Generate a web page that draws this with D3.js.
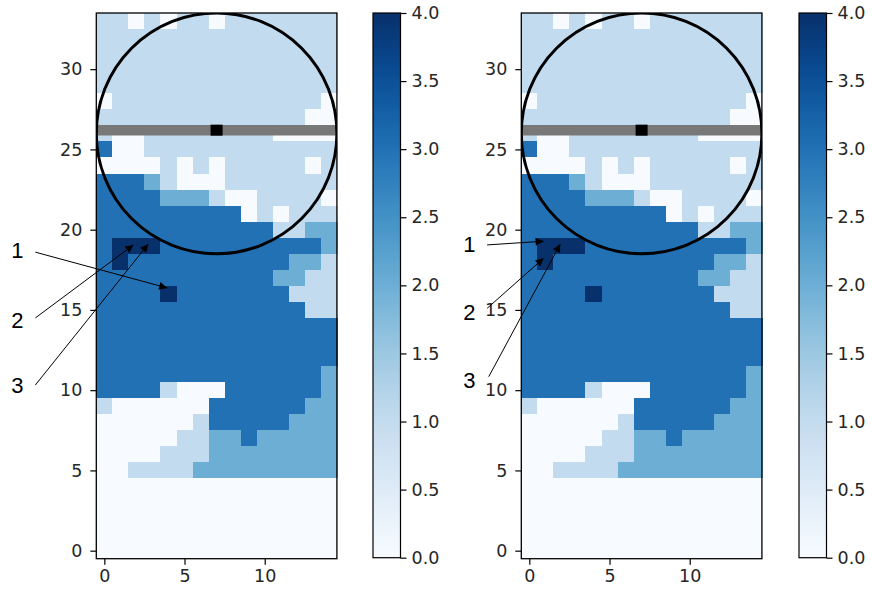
<!DOCTYPE html>
<html>
<head>
<meta charset="utf-8">
<script src="https://cdn.jsdelivr.net/npm/d3@7"></script>
<style>
  body { margin: 0; background: #fff; }
  .tick text { font-family: "DejaVu Sans", sans-serif; font-size: 17.5px; fill: #262626; }
  .note { font-family: "Liberation Sans", Arial, sans-serif; font-size: 22px; fill: #000; }
</style>
</head>
<body>
<svg id="chart" width="872" height="594"></svg>
<script>
// grid values, top row (y = 33) first, 15 columns each
const grid = [
  [1,1,0,1,0,1,1,0,1,1,1,1,1,1,1],
  [1,1,1,1,1,1,1,1,1,1,1,1,1,1,1],
  [1,1,1,1,1,1,1,1,1,1,1,1,1,1,1],
  [1,1,1,1,1,1,1,1,1,1,1,1,1,1,1],
  [1,1,1,1,1,1,1,1,1,1,1,1,1,1,1],
  [0,1,1,1,1,1,1,1,1,1,1,1,1,1,0],
  [1,1,1,1,1,1,1,1,1,1,1,1,1,0,0],
  [1,0,0,1,1,1,1,1,1,1,1,0,0,0,0],
  [3,0,0,1,1,1,1,1,1,1,1,1,1,1,1],
  [0,0,0,0,1,0,1,0,1,1,1,1,1,0,1],
  [3,3,3,2,1,0,0,0,1,1,1,1,1,1,1],
  [3,3,3,3,2,2,2,1,0,0,1,1,1,1,0],
  [3,3,3,3,3,3,3,3,3,0,1,0,1,1,1],
  [3,3,3,3,3,3,3,3,3,3,3,1,1,2,2],
  [3,4,4,4,3,3,3,3,3,3,3,3,3,3,2],
  [3,4,3,3,3,3,3,3,3,3,3,3,2,2,1],
  [3,3,3,3,3,3,3,3,3,3,3,2,2,1,1],
  [3,3,3,3,4,3,3,3,3,3,3,3,1,1,1],
  [3,3,3,3,3,3,3,3,3,3,3,3,3,1,1],
  [3,3,3,3,3,3,3,3,3,3,3,3,3,3,3],
  [3,3,3,3,3,3,3,3,3,3,3,3,3,3,3],
  [3,3,3,3,3,3,3,3,3,3,3,3,3,3,3],
  [3,3,3,3,3,3,3,3,3,3,3,3,3,3,2],
  [3,3,3,3,1,0,0,0,3,3,3,3,3,3,2],
  [1,0,0,0,0,0,0,3,3,3,3,3,3,2,2],
  [0,0,0,0,0,0,1,3,3,3,3,3,2,2,2],
  [0,0,0,0,0,1,1,2,2,3,2,2,2,2,2],
  [0,0,0,0,1,1,1,2,2,2,2,2,2,2,2],
  [0,0,1,1,1,1,2,2,2,2,2,2,2,2,2],
  [0,0,0,0,0,0,0,0,0,0,0,0,0,0,0],
  [0,0,0,0,0,0,0,0,0,0,0,0,0,0,0],
  [0,0,0,0,0,0,0,0,0,0,0,0,0,0,0],
  [0,0,0,0,0,0,0,0,0,0,0,0,0,0,0],
  [0,0,0,0,0,0,0,0,0,0,0,0,0,0,0]
];

const xTicks = [0, 5, 10];
const yTicks = [0, 5, 10, 15, 20, 25, 30];
const cbTicks = [0, 0.5, 1, 1.5, 2, 2.5, 3, 3.5, 4];

// circle centre / radius and the horizontal line with its centre marker
const circle = { cx: 7, cy: 26, r: 7.5 };
const lineY = 26.2;
const marker = [7, 26.2];

// annotations: label, text position, arrow start, arrow tip (data units)
const notesLeft = [
  ["1", [-5.42, 18.73], [-4.3, 18.6], [3.92, 16.37]],
  ["2", [-5.42, 14.37], [-4.3, 14.5], [1.81, 19.05]],
  ["3", [-5.42, 10.32], [-4.3, 10.32], [2.74, 19.1]]
];
const notesRight = [
  ["1", [-3.74, 19.1], [-2.63, 19.05], [0.89, 19.28]],
  ["2", [-3.74, 14.89], [-2.63, 15.1], [0.89, 18.22]],
  ["3", [-3.74, 10.64], [-2.53, 10.84], [1.93, 19.1]]
];

const svg = d3.select("#chart");
const color = d3.scaleSequential(d3.interpolateBlues).domain([0, 4]);

const defs = svg.append("defs");
defs.append("marker")
  .attr("id", "head")
  .attr("viewBox", "0 0 10 10")
  .attr("refX", 10).attr("refY", 5)
  .attr("markerWidth", 12).attr("markerHeight", 8)
  .attr("markerUnits", "userSpaceOnUse")
  .attr("orient", "auto")
  .append("path").attr("d", "M0,0 L10,5 L0,10 Z").attr("fill", "#000");

const grad = defs.append("linearGradient")
  .attr("id", "cbgrad")
  .attr("x1", 0).attr("y1", 1).attr("x2", 0).attr("y2", 0);
d3.range(0, 1.001, 0.05).forEach(t => {
  grad.append("stop").attr("offset", t).attr("stop-color", d3.interpolateBlues(t));
});

const plotTop = 13, plotBottom = 558.7;

function drawPanel(left, cbLeft, notes, id) {
  const x = d3.scaleLinear().domain([-0.5, 14.5]).range([left, left + 240.6]);
  const y = d3.scaleLinear().domain([-0.5, 33.5]).range([plotBottom, plotTop]);

  defs.append("clipPath").attr("id", "clip" + id)
    .append("rect")
    .attr("x", x(-0.5)).attr("y", plotTop)
    .attr("width", x(14.5) - x(-0.5)).attr("height", plotBottom - plotTop);

  const cells = [];
  grid.forEach((row, i) => row.forEach((v, c) => cells.push({ c: c, r: 33 - i, v: v })));

  const g = svg.append("g").attr("shape-rendering", "crispEdges");
  g.selectAll(".cell")
    .data(cells)
    .enter().append("rect")
    .attr("class", "cell")
    .attr("x", d => x(d.c - 0.5))
    .attr("y", d => y(d.r + 0.5))
    .attr("width", d => x(d.c + 0.5) - x(d.c - 0.5) + 0.6)
    .attr("height", d => y(d.r - 0.5) - y(d.r + 0.5) + 0.6)
    .attr("fill", d => color(d.v));

  const over = svg.append("g").attr("clip-path", `url(#clip${id})`);
  over.append("line")
    .attr("x1", x(-0.5)).attr("x2", x(14.5))
    .attr("y1", y(lineY)).attr("y2", y(lineY))
    .attr("stroke", "#787878").attr("stroke-width", 10.5);
  over.append("rect")
    .attr("x", x(marker[0]) - 6).attr("y", y(marker[1]) - 5.5)
    .attr("width", 12).attr("height", 11)
    .attr("fill", "#000");
  over.append("ellipse")
    .attr("cx", x(circle.cx)).attr("cy", y(circle.cy))
    .attr("rx", x(circle.r) - x(0)).attr("ry", y(0) - y(circle.r))
    .attr("fill", "none").attr("stroke", "#000").attr("stroke-width", 3);

  // frame
  svg.append("rect")
    .attr("x", x(-0.5)).attr("y", plotTop)
    .attr("width", x(14.5) - x(-0.5)).attr("height", plotBottom - plotTop)
    .attr("fill", "none").attr("stroke", "#000").attr("stroke-width", 1.3);

  svg.append("g")
    .attr("transform", `translate(0,${plotBottom})`)
    .call(d3.axisBottom(x).tickValues(xTicks).tickSize(6).tickPadding(5).tickFormat(d3.format("d")))
    .call(a => a.select(".domain").remove());

  svg.append("g")
    .attr("transform", `translate(${x(-0.5)},0)`)
    .call(d3.axisLeft(y).tickValues(yTicks).tickSize(6).tickPadding(8).tickFormat(d3.format("d")))
    .call(a => a.select(".domain").remove());

  svg.selectAll(".tick line").attr("stroke", "#000").attr("stroke-width", 1.2);

  // colorbar
  const cb = d3.scaleLinear().domain([0, 4]).range([plotBottom - 1, plotTop]);
  svg.append("rect")
    .attr("x", cbLeft).attr("y", plotTop)
    .attr("width", 27.5).attr("height", plotBottom - 1 - plotTop)
    .attr("fill", "url(#cbgrad)")
    .attr("stroke", "#000").attr("stroke-width", 1.2);
  svg.append("g")
    .attr("transform", `translate(${cbLeft + 27.5},0)`)
    .call(d3.axisRight(cb).tickValues(cbTicks).tickSize(6).tickPadding(5).tickFormat(d3.format(".1f")))
    .call(a => a.select(".domain").remove())
    .call(a => a.selectAll(".tick line").attr("stroke", "#000").attr("stroke-width", 1.2));

  // annotations
  const ann = svg.append("g");
  ann.selectAll(".note")
    .data(notes)
    .enter().append("text")
    .attr("class", "note")
    .attr("x", d => x(d[1][0]))
    .attr("y", d => y(d[1][1]))
    .attr("text-anchor", "middle")
    .attr("dy", "0.36em")
    .text(d => d[0]);
  ann.selectAll(".arrow")
    .data(notes)
    .enter().append("line")
    .attr("class", "arrow")
    .attr("x1", d => x(d[2][0])).attr("y1", d => y(d[2][1]))
    .attr("x2", d => x(d[3][0])).attr("y2", d => y(d[3][1]))
    .attr("stroke", "#000").attr("stroke-width", 1)
    .attr("marker-end", "url(#head)");
}

drawPanel(96.3, 373, notesLeft, "L");
drawPanel(521.3, 799, notesRight, "R");
</script>
</body>
</html>
